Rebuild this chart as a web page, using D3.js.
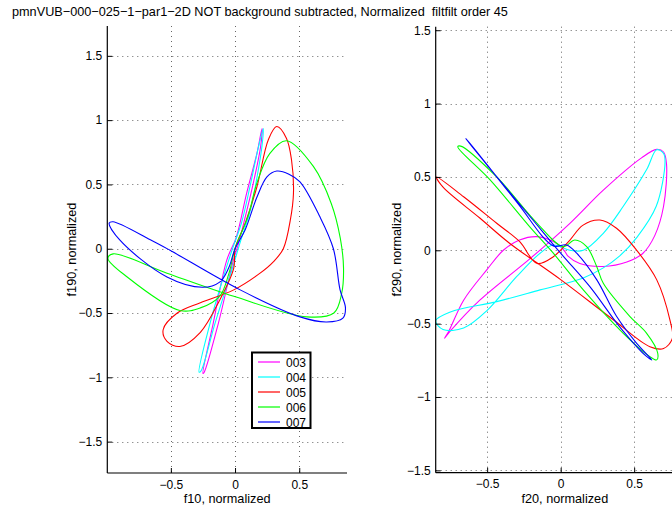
<!DOCTYPE html>
<html><head><meta charset="utf-8">
<script src="https://cdn.jsdelivr.net/npm/d3@7"></script>
<style>body{margin:0;background:#fff}svg{display:block}text{font-family:"Liberation Sans",Arial,Helvetica,sans-serif}</style>
</head><body>
<svg id="c" width="672" height="512"></svg>
<script>
const titleText = "pmnVUB\u2212000\u2212025\u22121\u2212par1\u22122D NOT background subtracted, Normalized  filtfilt order 45";
const seriesNames = ["003","004","005","006","007"];
const seriesColors = ["#ff00ff","#00ffff","#ff0000","#00ff00","#0000ff"];
const leftXTicks = [-0.5, 0, 0.5];
const leftYTicks = [-1.5, -1, -0.5, 0, 0.5, 1, 1.5];
const rightXTicks = [-0.5, 0, 0.5];
const rightYTicks = [-1.5, -1, -0.5, 0, 0.5, 1, 1.5];

// left panel: f10 vs f190
const left003 = [[-0.25,-0.97],[-0.17,-0.58],[-0.065,-0.09],[0.01,0.09],[0.09,0.43],[0.17,0.74],[0.21,0.935],[0.20,0.80],[0.14,0.50],[0.08,0.25],[0.03,0.05],[-0.013,-0.09],[-0.13,-0.58],[-0.24,-0.96]];
const left004 = [[-0.28,-0.96],[-0.195,-0.58],[-0.10,-0.25],[-0.02,0.0],[0.05,0.2],[0.12,0.5],[0.18,0.78],[0.22,0.935],[0.21,0.80],[0.17,0.55],[0.12,0.3],[0.04,0.05],[-0.02,-0.15],[-0.156,-0.58],[-0.265,-0.95]];
const left005 = [[0,0],[0.08,0.2],[0.17,0.48],[0.26,0.85],[0.325,0.95],[0.40,0.86],[0.44,0.69],[0.455,0.43],[0.43,0.22],[0.376,0.0],[0.30,-0.10],[0.195,-0.19],[-0.01,-0.32],[-0.27,-0.42],[-0.45,-0.50],[-0.56,-0.63],[-0.53,-0.72],[-0.43,-0.76],[-0.27,-0.65],[-0.12,-0.40],[-0.01,-0.15]];
const left006 = [[0,0],[0.1,0.25],[0.17,0.51],[0.27,0.74],[0.40,0.84],[0.61,0.64],[0.75,0.35],[0.82,0.08],[0.845,-0.15],[0.83,-0.35],[0.77,-0.50],[0.56,-0.53],[-0.01,-0.37],[-0.53,-0.19],[-0.95,-0.04],[-0.99,-0.075],[-0.84,-0.22],[-0.43,-0.48],[-0.27,-0.46],[-0.12,-0.37],[-0.05,-0.2]];
const left007 = [[0,0],[0.08,0.15],[0.17,0.40],[0.25,0.56],[0.325,0.604],[0.42,0.58],[0.506,0.52],[0.66,0.25],[0.766,0.0],[0.818,-0.32],[0.86,-0.46],[0.84,-0.54],[0.714,-0.57],[0.506,-0.53],[0.04,-0.32],[-0.51,-0.01],[-0.66,0.07],[-0.95,0.21],[-0.98,0.20],[-0.9,0.07],[-0.53,-0.22],[-0.25,-0.30],[-0.12,-0.26],[-0.05,-0.15]];

// right panel: f20 vs f290
const right003 = [[0.03,-0.01],[0.05,-0.04],[0.13,-0.09],[0.29,-0.11],[0.45,-0.08],[0.56,-0.02],[0.64,0.10],[0.70,0.30],[0.72,0.59],[0.70,0.67],[0.653,0.688],[0.55,0.63],[0.29,0.41],[0.063,0.184],[-0.2,-0.05],[-0.55,-0.34],[-0.75,-0.55],[-0.79,-0.60],[-0.76,-0.55],[-0.66,-0.34],[-0.50,-0.13],[-0.39,0.0],[-0.28,0.07],[-0.16,0.093],[-0.05,0.06],[0.0,0.025]];
const right004 = [[-0.05,0.036],[0.063,0.0],[0.154,0.0],[0.29,0.116],[0.426,0.30],[0.585,0.55],[0.653,0.685],[0.70,0.66],[0.71,0.60],[0.65,0.30],[0.52,0.09],[0.40,-0.04],[0.29,-0.12],[0.15,-0.19],[-0.14,-0.27],[-0.435,-0.35],[-0.75,-0.42],[-0.85,-0.48],[-0.80,-0.54],[-0.66,-0.53],[-0.50,-0.41],[-0.30,-0.18],[-0.14,-0.02]];
const right005 = [[-0.845,0.50],[-0.66,0.365],[-0.435,0.184],[-0.28,0.06],[-0.16,-0.09],[-0.05,-0.044],[0.063,0.07],[0.15,0.17],[0.267,0.206],[0.38,0.15],[0.517,0.0],[0.653,-0.2],[0.743,-0.475],[0.76,-0.60],[0.70,-0.67],[0.607,-0.657],[0.36,-0.475],[0.0,-0.20],[-0.35,0.05],[-0.55,0.22],[-0.80,0.43]];
const right006 = [[-0.70,0.706],[-0.48,0.48],[-0.21,0.16],[-0.05,-0.02],[0.154,-0.27],[0.426,-0.566],[0.60,-0.72],[0.653,-0.747],[0.66,-0.70],[0.585,-0.566],[0.47,-0.45],[0.29,-0.225],[0.245,-0.11],[0.177,0.025],[0.097,0.07],[0.018,0.025],[-0.16,0.184],[-0.435,0.50],[-0.68,0.71]];
const right007 = [[-0.644,0.763],[-0.3,0.33],[-0.05,0.03],[0.04,0.036],[0.109,-0.02],[0.245,-0.2],[0.38,-0.45],[0.517,-0.634],[0.62,-0.747],[0.58,-0.72],[0.4,-0.52],[0.2,-0.25],[0.0,-0.02],[-0.2,0.22],[-0.45,0.52],[-0.64,0.755]];

const leftData = [left003,left004,left005,left006,left007];
const rightData = [right003,right004,right005,right006,right007];

const svg = d3.select("#c");
svg.append("text").attr("x",12).attr("y",16).attr("font-size","12.7px").style("white-space","pre").text(titleText);

function fmt(v){ return v===0 ? "0" : (v<0 ? "\u2212" : "") + String(Math.abs(v)); }

function panel(cfg){
  const x = d3.scaleLinear().domain(cfg.xd).range(cfg.xr);
  const y = d3.scaleLinear().domain(cfg.yd).range(cfg.yr);
  const g = svg.append("g");
  const cid = "clip"+cfg.id;
  svg.append("clipPath").attr("id",cid).append("rect")
    .attr("x",cfg.xr[0]).attr("y",cfg.yr[1]).attr("width",cfg.xr[1]-cfg.xr[0]).attr("height",cfg.yr[0]-cfg.yr[1]);
  const grid = g.append("g").attr("stroke","#666").attr("stroke-width",1).attr("stroke-dasharray","1,4");
  cfg.xt.forEach(t=>grid.append("line").attr("x1",Math.round(x(t))+0.5).attr("x2",Math.round(x(t))+0.5).attr("y1",cfg.yr[1]).attr("y2",cfg.yr[0]));
  cfg.yt.forEach(t=>grid.append("line").attr("y1",Math.round(y(t))+0.5).attr("y2",Math.round(y(t))+0.5).attr("x1",cfg.xr[0]).attr("x2",cfg.xr[1]));
  const line = d3.line().x(d=>x(d[0])).y(d=>y(d[1])).curve(d3.curveCatmullRomClosed.alpha(0.5));
  const cg = g.append("g").attr("clip-path","url(#"+cid+")");
  cfg.data.forEach((s,i)=>cg.append("path").attr("d",line(s)).attr("fill","none").attr("stroke",seriesColors[i]).attr("stroke-width",1.1));
  const ax = d3.axisBottom(x).tickValues(cfg.xt).tickSize(-5).tickPadding(7).tickFormat(fmt);
  const ay = d3.axisLeft(y).tickValues(cfg.yt).tickSize(-5).tickPadding(5).tickFormat(fmt);
  const gx = g.append("g").attr("transform","translate(0,"+cfg.yr[0]+")").call(ax);
  const gy = g.append("g").attr("transform","translate("+cfg.xr[0]+",0)").call(ay);
  [gx,gy].forEach(a=>{
    a.select(".domain").attr("stroke","#000").attr("stroke-width",1.2);
    a.selectAll(".tick line").attr("stroke","#000");
    a.selectAll("text").attr("font-size","12px").attr("fill","#000").attr("font-family","'Liberation Sans',Arial,sans-serif");
  });
  gx.select(".domain").attr("d","M"+cfg.xr[0]+",0H"+cfg.xr[1]);
  gy.select(".domain").attr("d","M0,"+cfg.yr[0]+"V"+cfg.yr[1]);
  svg.append("text").attr("x",(cfg.xr[0]+cfg.xr[1])/2).attr("y",503).attr("text-anchor","middle").attr("font-size","12.7px").text(cfg.xl);
  svg.append("text").attr("transform","translate("+cfg.ylx+","+((cfg.yr[0]+cfg.yr[1])/2)+") rotate(-90)").attr("text-anchor","middle").attr("font-size","12.7px").text(cfg.yl);
  return {x,y};
}

panel({id:"L",xd:[-0.995,0.872],xr:[107.3,347],yd:[-1.744,1.732],yr:[473,26],xt:leftXTicks,yt:leftYTicks,data:leftData,xl:"f10, normalized",yl:"f190, normalized",ylx:76});
panel({id:"R",xd:[-0.85,0.907],xr:[435.7,694],yd:[-1.516,1.524],yr:[472.7,26.7],xt:rightXTicks,yt:rightYTicks,data:rightData,xl:"f20, normalized",yl:"f290, normalized",ylx:401});

const lg = svg.append("g");
lg.append("rect").attr("x",252).attr("y",352.5).attr("width",58.5).attr("height",75.5).attr("fill","#fff").attr("stroke","#000").attr("stroke-width",2);
seriesNames.forEach((n,i)=>{
  const yy = 362 + i*15;
  lg.append("line").attr("x1",258).attr("x2",280).attr("y1",yy).attr("y2",yy).attr("stroke",seriesColors[i]).attr("stroke-width",1.2);
  lg.append("text").attr("x",286).attr("y",yy+4.5).attr("font-size","12px").text(n);
});
</script>
</body></html>
